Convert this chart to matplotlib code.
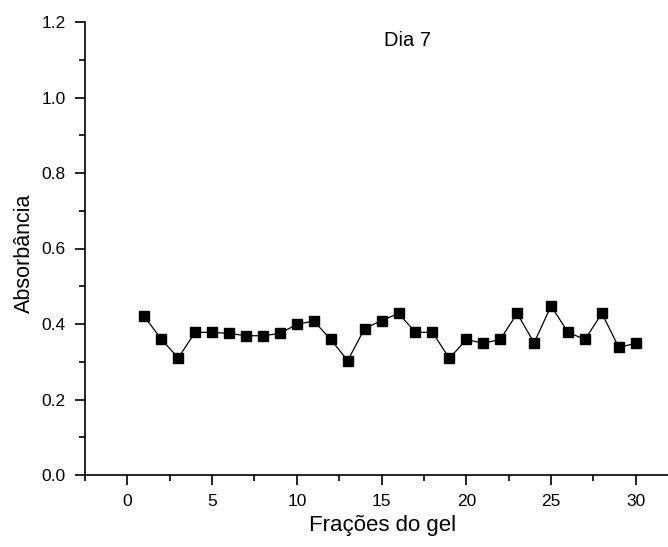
import matplotlib
matplotlib.use("Agg")
import matplotlib.pyplot as plt
from matplotlib.ticker import MultipleLocator

plt.rcParams['font.family'] = ['Liberation Sans', 'DejaVu Sans']

fractions = list(range(1, 31))
absorbance = [0.42, 0.36, 0.31, 0.378, 0.378, 0.375, 0.369, 0.369, 0.375, 0.399,
              0.408, 0.359, 0.303, 0.388, 0.409, 0.428, 0.378, 0.378, 0.309, 0.359,
              0.349, 0.359, 0.428, 0.35, 0.448, 0.378, 0.359, 0.428, 0.338, 0.349]
x_ticks = [0, 5, 10, 15, 20, 25, 30]
y_ticks = [0.0, 0.2, 0.4, 0.6, 0.8, 1.0, 1.2]

fig = plt.figure(figsize=(6.68, 5.47), dpi=100)
ax = fig.add_axes([85/668, 1 - 475/547, (668-85)/668, (475-22)/547])

ax.plot(fractions, absorbance, color='black', lw=0.9, marker='s', markersize=7,
        markerfacecolor='black', markeredgecolor='black')

ax.set_xlim(-2.5, 31.9)
ax.set_ylim(0, 1.2)
ax.set_xticks(x_ticks)
ax.set_yticks(y_ticks)
ax.set_yticklabels([f"{v:.1f}" for v in y_ticks])
ax.xaxis.set_minor_locator(MultipleLocator(2.5))
ax.yaxis.set_minor_locator(MultipleLocator(0.1))

for s in ['top', 'right']:
    ax.spines[s].set_visible(False)
for s in ['left', 'bottom']:
    ax.spines[s].set_linewidth(1.2)

ax.tick_params(which='major', direction='out', length=7, width=1.2, labelsize=12.5, pad=7)
ax.tick_params(which='minor', direction='out', length=4, width=1.2)

ax.set_xlabel('Frações do gel', fontsize=16)
ax.xaxis.set_label_coords(0.51, -0.088)
ax.set_ylabel('Absorbância', fontsize=15.5)
ax.yaxis.set_label_coords(-0.086, 0.49)
ax.text(16.5, 1.15, 'Dia 7', fontsize=14.5, ha='center', va='center')

fig.savefig('out.png', dpi=100)
